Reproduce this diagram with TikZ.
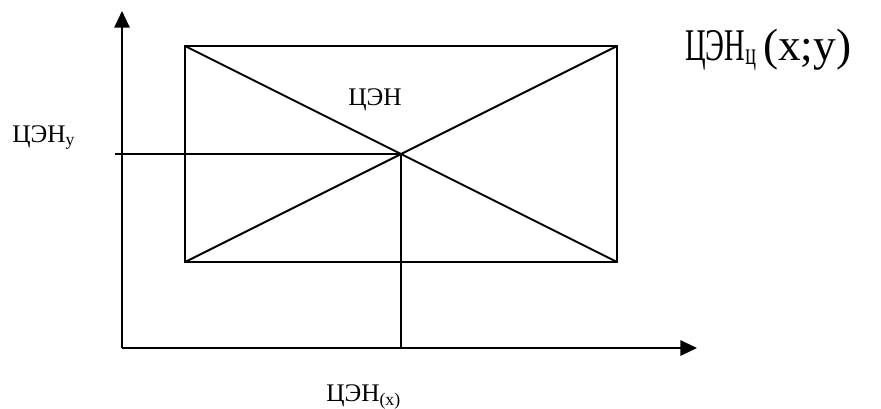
\documentclass[tikz,border=0pt]{standalone}
\usepackage{fontspec}
\usepackage{graphicx}
\setmainfont{Liberation Serif}
\usetikzlibrary{arrows.meta,positioning}
\tikzset{
  axisarr/.style={-{Triangle[length=12.5pt,width=11.5pt]},line width=1.5pt},
  frameline/.style={line width=1.5pt},
  smalllbl/.style={font=\fontsize{19}{19}\selectfont,inner sep=0pt,anchor=base west},
  biglbl/.style={font=\fontsize{34}{34}\selectfont,inner sep=0pt,anchor=base west}
}
\newcommand{\narrowcyr}[1]{\scalebox{0.63}[1]{#1}}

\begin{document}
\begin{tikzpicture}[x=0.75pt,y=-0.75pt]
  \useasboundingbox (0,0) rectangle (881,408);

  % axes
  \coordinate (orig) at (122,348);
  \coordinate (ytop) at (122,11);
  \coordinate (xend) at (697,348);
  \draw[axisarr] (orig) -- (ytop);
  \draw[axisarr] (orig) -- (xend);

  % rectangle and diagonals
  \coordinate (tl) at (185,46);
  \coordinate (tr) at (617,46);
  \coordinate (br) at (617,262);
  \coordinate (bl) at (185,262);
  \draw[frameline] (tl) -- (tr) -- (br) -- (bl) -- cycle;
  \draw[frameline] (tl) -- (br);
  \draw[frameline] (bl) -- (tr);
  \coordinate (cen) at (401,154);

  % projections
  \coordinate (ycut) at (115,154);
  \coordinate (xcut) at (401,348);
  \draw[frameline] (ycut) -- (cen);
  \draw[frameline] (cen) -- (xcut);

  \node[smalllbl] (lbly) at (12,142) {ЦЭН\textsubscript{у}};
  \node[smalllbl] (lblc) at (348,105) {ЦЭН};
  \node[smalllbl] (lblx) at (326,401) {ЦЭН\textsubscript{(x)}};
  \node[biglbl] (lblxy) at (685,60) {\narrowcyr{ЦЭН}\narrowcyr{\textsubscript{ц}}\hspace{5pt}(x;y)};
\end{tikzpicture}
\end{document}
